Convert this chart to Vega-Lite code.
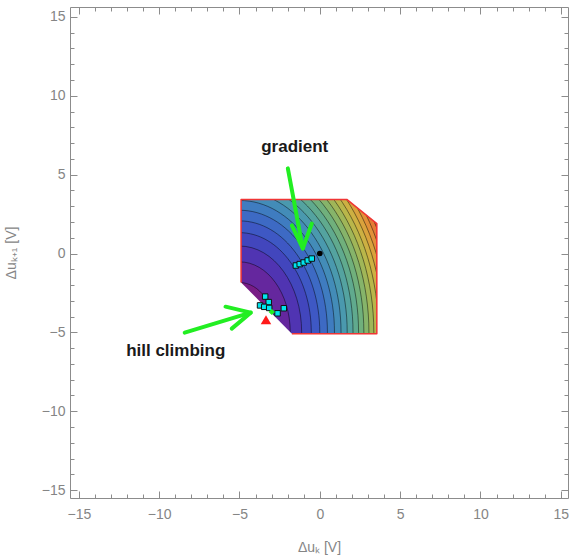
{
  "$schema": "https://vega.github.io/schema/vega-lite/v6.json",
  "autosize": {"type": "none"},
  "width": 498,
  "height": 491,
  "padding": {"left": 70, "top": 7, "right": 1, "bottom": 60},
  "background": "white",
  "config": {
    "view": {"stroke": null},
    "axis": {
      "grid": false,
      "domainColor": "#8c8c8c",
      "tickColor": "#8c8c8c",
      "labelColor": "#858585",
      "titleColor": "#858585",
      "labelFont": "Liberation Sans",
      "titleFont": "Liberation Sans",
      "labelFontSize": 14,
      "titleFontSize": 14,
      "titleFontWeight": "normal",
      "labelFlush": false
    }
  },
  "resolve": {"axis": {"x": "independent", "y": "independent"}},
  "layer": [
    {
      "data": {"values": [
        {"level": 10, "cx": -5, "cy": -5}, {"level": 20, "cx": -5, "cy": -5},
        {"level": 30, "cx": -5, "cy": -5}, {"level": 40, "cx": -5, "cy": -5},
        {"level": 50, "cx": -5, "cy": -5}, {"level": 60, "cx": -5, "cy": -5},
        {"level": 70, "cx": -5, "cy": -5}, {"level": 80, "cx": -5, "cy": -5},
        {"level": 90, "cx": -5, "cy": -5}, {"level": 100, "cx": -5, "cy": -5},
        {"level": 110, "cx": -5, "cy": -5}, {"level": 120, "cx": -5, "cy": -5},
        {"level": 130, "cx": -5, "cy": -5}, {"level": 140, "cx": -5, "cy": -5},
        {"level": 150, "cx": -5, "cy": -5}, {"level": 160, "cx": -5, "cy": -5},
        {"level": 170, "cx": -5, "cy": -5}, {"level": 180, "cx": -5, "cy": -5},
        {"level": 190, "cx": -5, "cy": -5}, {"level": 200, "cx": -5, "cy": -5}
      ]},
      "mark": {
        "type": "point",
        "filled": true,
        "clip": true,
        "opacity": 1,
        "shape": "M-0.72,0A0.72,1,0,1,0,0.72,0A0.72,1,0,1,0,-0.72,0Z",
        "stroke": "#000000",
        "strokeOpacity": 0.45,
        "strokeWidth": 1
      },
      "encoding": {
        "x": {"field": "cx", "type": "quantitative",
              "scale": {"domain": [-15.55, 15.45], "nice": false, "zero": false},
              "axis": {"orient": "bottom", "ticks": false, "domain": true, "zindex": 1,
                       "values": [-15, -10, -5, 0, 5, 10, 15],
                       "labelPadding": 9, "title": "Δuₖ [V]", "titlePadding": 19}},
        "y": {"field": "cy", "type": "quantitative",
              "scale": {"domain": [-15.5, 15.63], "nice": false, "zero": false},
              "axis": {"orient": "left", "ticks": false, "domain": true, "zindex": 1,
                       "values": [-15, -10, -5, 0, 5, 10, 15],
                       "labelPadding": 5, "title": "Δuₖ₊₁ [V]", "titlePadding": 23}},
        "size": {"field": "level", "type": "quantitative", "legend": null,
                 "scale": {"type": "linear", "domain": [0, 200], "range": [0, 198960], "zero": true}},
        "color": {"field": "level", "type": "ordinal", "legend": null,
                  "scale": {"domain": [10, 20, 30, 40, 50, 60, 70, 80, 90, 100, 110, 120, 130, 140, 150, 160, 170, 180, 190, 200],
                            "range": ["#781c86", "#65279e", "#5034b2", "#4246bd", "#3e58c4", "#3d6ac4", "#3f7cc0", "#438cb8", "#4a99ae", "#54a3a0",
                                      "#60aa8e", "#70b07c", "#86b46a", "#a0b658", "#b9b64a", "#cdb042", "#daa23c", "#e29038", "#e47c34", "#e2662f"]}},
        "order": {"field": "level", "type": "quantitative", "sort": "descending"}
      }
    },
    {
      "data": {"values": [
        {"x1": -20, "x2": -4.9, "y1": -20, "y2": 20},
        {"x1": 3.55, "x2": 20, "y1": -20, "y2": 20},
        {"x1": -5, "x2": 3.65, "y1": 3.43, "y2": 20},
        {"x1": -5, "x2": 3.65, "y1": -20, "y2": -5.08}
      ]},
      "mark": {"type": "rect", "fill": "white", "clip": true},
      "encoding": {
        "x": {"field": "x1", "type": "quantitative",
              "scale": {"domain": [-15.55, 15.45], "nice": false, "zero": false},
              "axis": {"orient": "bottom", "values": [-15, -10, -5, 0, 5, 10, 15], "tickSize": -7, "zindex": 1,
                       "labels": false, "domain": false, "title": null}},
        "x2": {"field": "x2"},
        "y": {"field": "y1", "type": "quantitative",
              "scale": {"domain": [-15.5, 15.63], "nice": false, "zero": false},
              "axis": {"orient": "left", "values": [-15, -10, -5, 0, 5, 10, 15], "tickSize": -7, "zindex": 1,
                       "labels": false, "domain": false, "title": null}},
        "y2": {"field": "y2"}
      }
    },
    {
      "data": {"values": [
        {"tri": "tr", "x": 1.68, "y": 3.43, "yb": 3.6},
        {"tri": "tr", "x": 3.55, "y": 1.9, "yb": 3.6},
        {"tri": "tr", "x": 3.7, "y": 1.75, "yb": 3.6},
        {"tri": "bl", "x": -5.0, "y": -1.74, "yb": -5.2},
        {"tri": "bl", "x": -4.9, "y": -1.84, "yb": -5.2},
        {"tri": "bl", "x": -1.74, "y": -5.08, "yb": -5.2}
      ]},
      "mark": {"type": "area", "fill": "white", "clip": true, "opacity": 1},
      "encoding": {
        "detail": {"field": "tri"},
        "x": {"field": "x", "type": "quantitative",
              "scale": {"domain": [-15.55, 15.45], "nice": false, "zero": false},
              "axis": {"orient": "bottom", "zindex": 1,
                       "values": [-14, -13, -12, -11, -9, -8, -7, -6, -4, -3, -2, -1, 1, 2, 3, 4, 6, 7, 8, 9, 11, 12, 13, 14],
                       "tickSize": -4, "labels": false, "domain": false, "title": null}},
        "y": {"field": "y", "type": "quantitative",
              "scale": {"domain": [-15.5, 15.63], "nice": false, "zero": false},
              "axis": {"orient": "left", "zindex": 1,
                       "values": [-14, -13, -12, -11, -9, -8, -7, -6, -4, -3, -2, -1, 1, 2, 3, 4, 6, 7, 8, 9, 11, 12, 13, 14],
                       "tickSize": -4, "labels": false, "domain": false, "title": null}},
        "y2": {"field": "yb"}
      }
    },
    {
      "data": {"values": [
        {"i": 1, "x": -4.9, "y": -1.84},
        {"i": 2, "x": -4.9, "y": 3.43},
        {"i": 3, "x": 1.68, "y": 3.43},
        {"i": 4, "x": 3.55, "y": 1.9},
        {"i": 5, "x": 3.55, "y": -5.08},
        {"i": 6, "x": -1.74, "y": -5.08}
      ]},
      "mark": {"type": "line", "stroke": "#f03535", "strokeWidth": 1.5, "strokeJoin": "round"},
      "encoding": {
        "order": {"field": "i", "type": "quantitative"},
        "x": {"field": "x", "type": "quantitative",
              "scale": {"domain": [-15.55, 15.45], "nice": false, "zero": false},
              "axis": {"orient": "top", "values": [-15, -10, -5, 0, 5, 10, 15], "tickSize": -7, "zindex": 1,
                       "labels": false, "domain": true, "title": null}},
        "y": {"field": "y", "type": "quantitative",
              "scale": {"domain": [-15.5, 15.63], "nice": false, "zero": false},
              "axis": {"orient": "right", "values": [-15, -10, -5, 0, 5, 10, 15], "tickSize": -7, "zindex": 1,
                       "labels": false, "domain": true, "title": null}}
      }
    },
    {
      "data": {"values": [
        {"seg": "g-shaft", "i": 1, "x": -1.99, "y": 5.4},
        {"seg": "g-shaft", "i": 2, "x": -1.06, "y": 0.32},
        {"seg": "g-head", "i": 1, "x": -1.74, "y": 1.78},
        {"seg": "g-head", "i": 2, "x": -1.06, "y": 0.32},
        {"seg": "g-head", "i": 3, "x": -0.5, "y": 1.9},
        {"seg": "h-shaft", "i": 1, "x": -8.41, "y": -5.02},
        {"seg": "h-shaft", "i": 2, "x": -4.3, "y": -3.75},
        {"seg": "h-head", "i": 1, "x": -5.87, "y": -3.37},
        {"seg": "h-head", "i": 2, "x": -4.3, "y": -3.75},
        {"seg": "h-head", "i": 3, "x": -5.48, "y": -4.76}
      ]},
      "mark": {"type": "line", "stroke": "#22ee22", "strokeWidth": 4, "strokeCap": "round", "strokeJoin": "round"},
      "encoding": {
        "detail": {"field": "seg"},
        "order": {"field": "i", "type": "quantitative"},
        "x": {"field": "x", "type": "quantitative",
              "scale": {"domain": [-15.55, 15.45], "nice": false, "zero": false},
              "axis": {"orient": "top", "zindex": 1,
                       "values": [-14, -13, -12, -11, -9, -8, -7, -6, -4, -3, -2, -1, 1, 2, 3, 4, 6, 7, 8, 9, 11, 12, 13, 14],
                       "tickSize": -4, "labels": false, "domain": false, "title": null}},
        "y": {"field": "y", "type": "quantitative",
              "scale": {"domain": [-15.5, 15.63], "nice": false, "zero": false},
              "axis": {"orient": "right", "zindex": 1,
                       "values": [-14, -13, -12, -11, -9, -8, -7, -6, -4, -3, -2, -1, 1, 2, 3, 4, 6, 7, 8, 9, 11, 12, 13, 14],
                       "tickSize": -4, "labels": false, "domain": false, "title": null}}
      }
    },
    {
      "data": {"values": [
        {"x": -1.49, "y": -0.76}, {"x": -1.25, "y": -0.67}, {"x": -1.0, "y": -0.57},
        {"x": -0.75, "y": -0.44}, {"x": -0.5, "y": -0.32},
        {"x": -3.4, "y": -2.73}, {"x": -3.18, "y": -3.08}, {"x": -3.72, "y": -3.29},
        {"x": -3.46, "y": -3.38}, {"x": -3.15, "y": -3.45}, {"x": -2.63, "y": -3.79},
        {"x": -2.24, "y": -3.47}
      ]},
      "mark": {"type": "point", "shape": "square", "filled": true, "size": 30, "fill": "#00e5ee", "stroke": "#111111", "strokeWidth": 1, "opacity": 1},
      "encoding": {
        "x": {"field": "x", "type": "quantitative", "scale": {"domain": [-15.55, 15.45], "nice": false, "zero": false}, "axis": null},
        "y": {"field": "y", "type": "quantitative", "scale": {"domain": [-15.5, 15.63], "nice": false, "zero": false}, "axis": null}
      }
    },
    {
      "data": {"values": [{"x": 0, "y": 0}]},
      "mark": {"type": "point", "shape": "circle", "filled": true, "size": 32, "color": "#000000", "opacity": 1},
      "encoding": {
        "x": {"field": "x", "type": "quantitative", "scale": {"domain": [-15.55, 15.45], "nice": false, "zero": false}, "axis": null},
        "y": {"field": "y", "type": "quantitative", "scale": {"domain": [-15.5, 15.63], "nice": false, "zero": false}, "axis": null}
      }
    },
    {
      "data": {"values": [{"x": -2.99, "y": -3.7}]},
      "mark": {"type": "point", "shape": "diamond", "filled": true, "size": 40, "color": "#22ee22", "opacity": 1},
      "encoding": {
        "x": {"field": "x", "type": "quantitative", "scale": {"domain": [-15.55, 15.45], "nice": false, "zero": false}, "axis": null},
        "y": {"field": "y", "type": "quantitative", "scale": {"domain": [-15.5, 15.63], "nice": false, "zero": false}, "axis": null}
      }
    },
    {
      "data": {"values": [{"x": -3.35, "y": -4.2}]},
      "mark": {"type": "point", "shape": "triangle-up", "filled": true, "size": 110, "color": "#ff1a1a", "opacity": 1},
      "encoding": {
        "x": {"field": "x", "type": "quantitative", "scale": {"domain": [-15.55, 15.45], "nice": false, "zero": false}, "axis": null},
        "y": {"field": "y", "type": "quantitative", "scale": {"domain": [-15.5, 15.63], "nice": false, "zero": false}, "axis": null}
      }
    },
    {
      "data": {"values": [
        {"x": -1.56, "y": 6.73, "label": "gradient"},
        {"x": -8.97, "y": -6.16, "label": "hill climbing"}
      ]},
      "mark": {"type": "text", "font": "Liberation Sans", "fontWeight": "bold", "fontSize": 17, "color": "#1a1a1a", "align": "center", "baseline": "middle"},
      "encoding": {
        "x": {"field": "x", "type": "quantitative", "scale": {"domain": [-15.55, 15.45], "nice": false, "zero": false}, "axis": null},
        "y": {"field": "y", "type": "quantitative", "scale": {"domain": [-15.5, 15.63], "nice": false, "zero": false}, "axis": null},
        "text": {"field": "label"}
      }
    }
  ]
}
